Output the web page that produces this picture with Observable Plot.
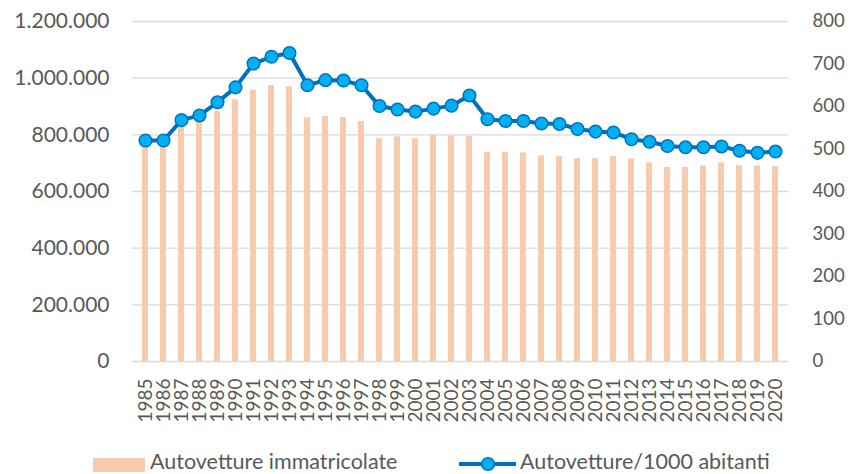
<!DOCTYPE html>
<html><head><meta charset="utf-8">
<script src="https://cdn.jsdelivr.net/npm/d3@7"></script>
<script src="https://cdn.jsdelivr.net/npm/@observablehq/plot@0.6"></script>
<style>
body{margin:0;background:#fff;font-family:Lato,sans-serif;}
#wrap{position:relative;width:853px;height:474px;overflow:hidden;}
#legend{position:absolute;left:0;top:445px;}
</style></head><body><div id="wrap"><div id="chart"></div><svg id="legend" width="853" height="29"></svg></div>
<script>
const years = [1985,1986,1987,1988,1989,1990,1991,1992,1993,1994,1995,1996,1997,1998,1999,2000,2001,2002,2003,2004,2005,2006,2007,2008,2009,2010,2011,2012,2013,2014,2015,2016,2017,2018,2019,2020];
const immatricolate = [755000,755000,826000,846000,883000,923000,958000,974000,969000,860000,865000,861000,847000,786000,793000,786000,798000,796000,795000,738000,738000,736000,726000,723000,716000,716000,723000,715000,701000,685000,685000,690000,701000,691000,690000,688000];
const per1000 = [520,520,568,579,610,645,701,717,726,650,662,661,650,601,593,588,595,602,626,570,566,566,560,559,547,541,539,523,517,507,504,504,506,496,491,494];
const leftTicks = [0,200000,400000,600000,800000,1000000,1200000];
const rightTicks = [0,100,200,300,400,500,600,700,800];
const seriesNames = ["Autovetture immatricolate","Autovetture/1000 abitanti"];

const ratio = 1200000 / 800;
const it = d3.formatLocale({decimal:",", thousands:".", grouping:[3], currency:["€",""]});
const fmt = it.format(",d");
const data = years.map((y,i)=>({year:String(y), reg:immatricolate[i], rate:per1000[i]}));

const chart = Plot.plot({
  width:853, height:445, marginTop:21, marginBottom:84, marginLeft:132, marginRight:65,
  style:{fontFamily:"Lato, sans-serif", color:"#595959", background:"transparent"},
  x:{type:"band", domain: years.map(String), paddingInner:0.69, paddingOuter:0.345},
  y:{domain:[0,1200000]},
  marks:[
    Plot.gridY(leftTicks,{stroke:"#d9d9d9", strokeOpacity:1, strokeWidth:1.3}),
    Plot.barY(data,{x:"year", y:"reg", fill:"#F8CBAD"}),
    Plot.line(data,{x:"year", y:d=>d.rate*ratio, stroke:"#0070C0", strokeWidth:4}),
    Plot.dot(data,{x:"year", y:d=>d.rate*ratio, r:6.3, fill:"#00B0F0", stroke:"#0070C0", strokeWidth:1.5}),
    Plot.axisY(leftTicks,{anchor:"left", tickSize:0, tickPadding:23, tickFormat:fmt, fontSize:21, label:null}),
    Plot.axisY(rightTicks.map(d=>d*ratio),{anchor:"right", tickSize:0, tickPadding:24, tickFormat:d=>String(Math.round(d/ratio)), fontSize:18.5, label:null}),
    Plot.axisX({tickRotate:-90, tickSize:0, tickPadding:17, fontSize:19, label:null})
  ]
});
document.getElementById("chart").appendChild(chart);

const lg = d3.select("#legend");
lg.append("rect").attr("x",93).attr("y",13).attr("width",52).attr("height",14).attr("fill","#F8CBAD");
lg.append("text").attr("x",150).attr("y",24).attr("font-size",21.5).attr("fill","#595959").attr("font-family","Lato, sans-serif").text(seriesNames[0]);
lg.append("line").attr("x1",459).attr("x2",516).attr("y1",19).attr("y2",19).attr("stroke","#0070C0").attr("stroke-width",4);
lg.append("circle").attr("cx",488).attr("cy",19).attr("r",6.3).attr("fill","#00B0F0").attr("stroke","#0070C0").attr("stroke-width",1.5);
lg.append("text").attr("x",520).attr("y",24).attr("font-size",21.5).attr("fill","#595959").attr("font-family","Lato, sans-serif").text(seriesNames[1]);
</script>
</body></html>
